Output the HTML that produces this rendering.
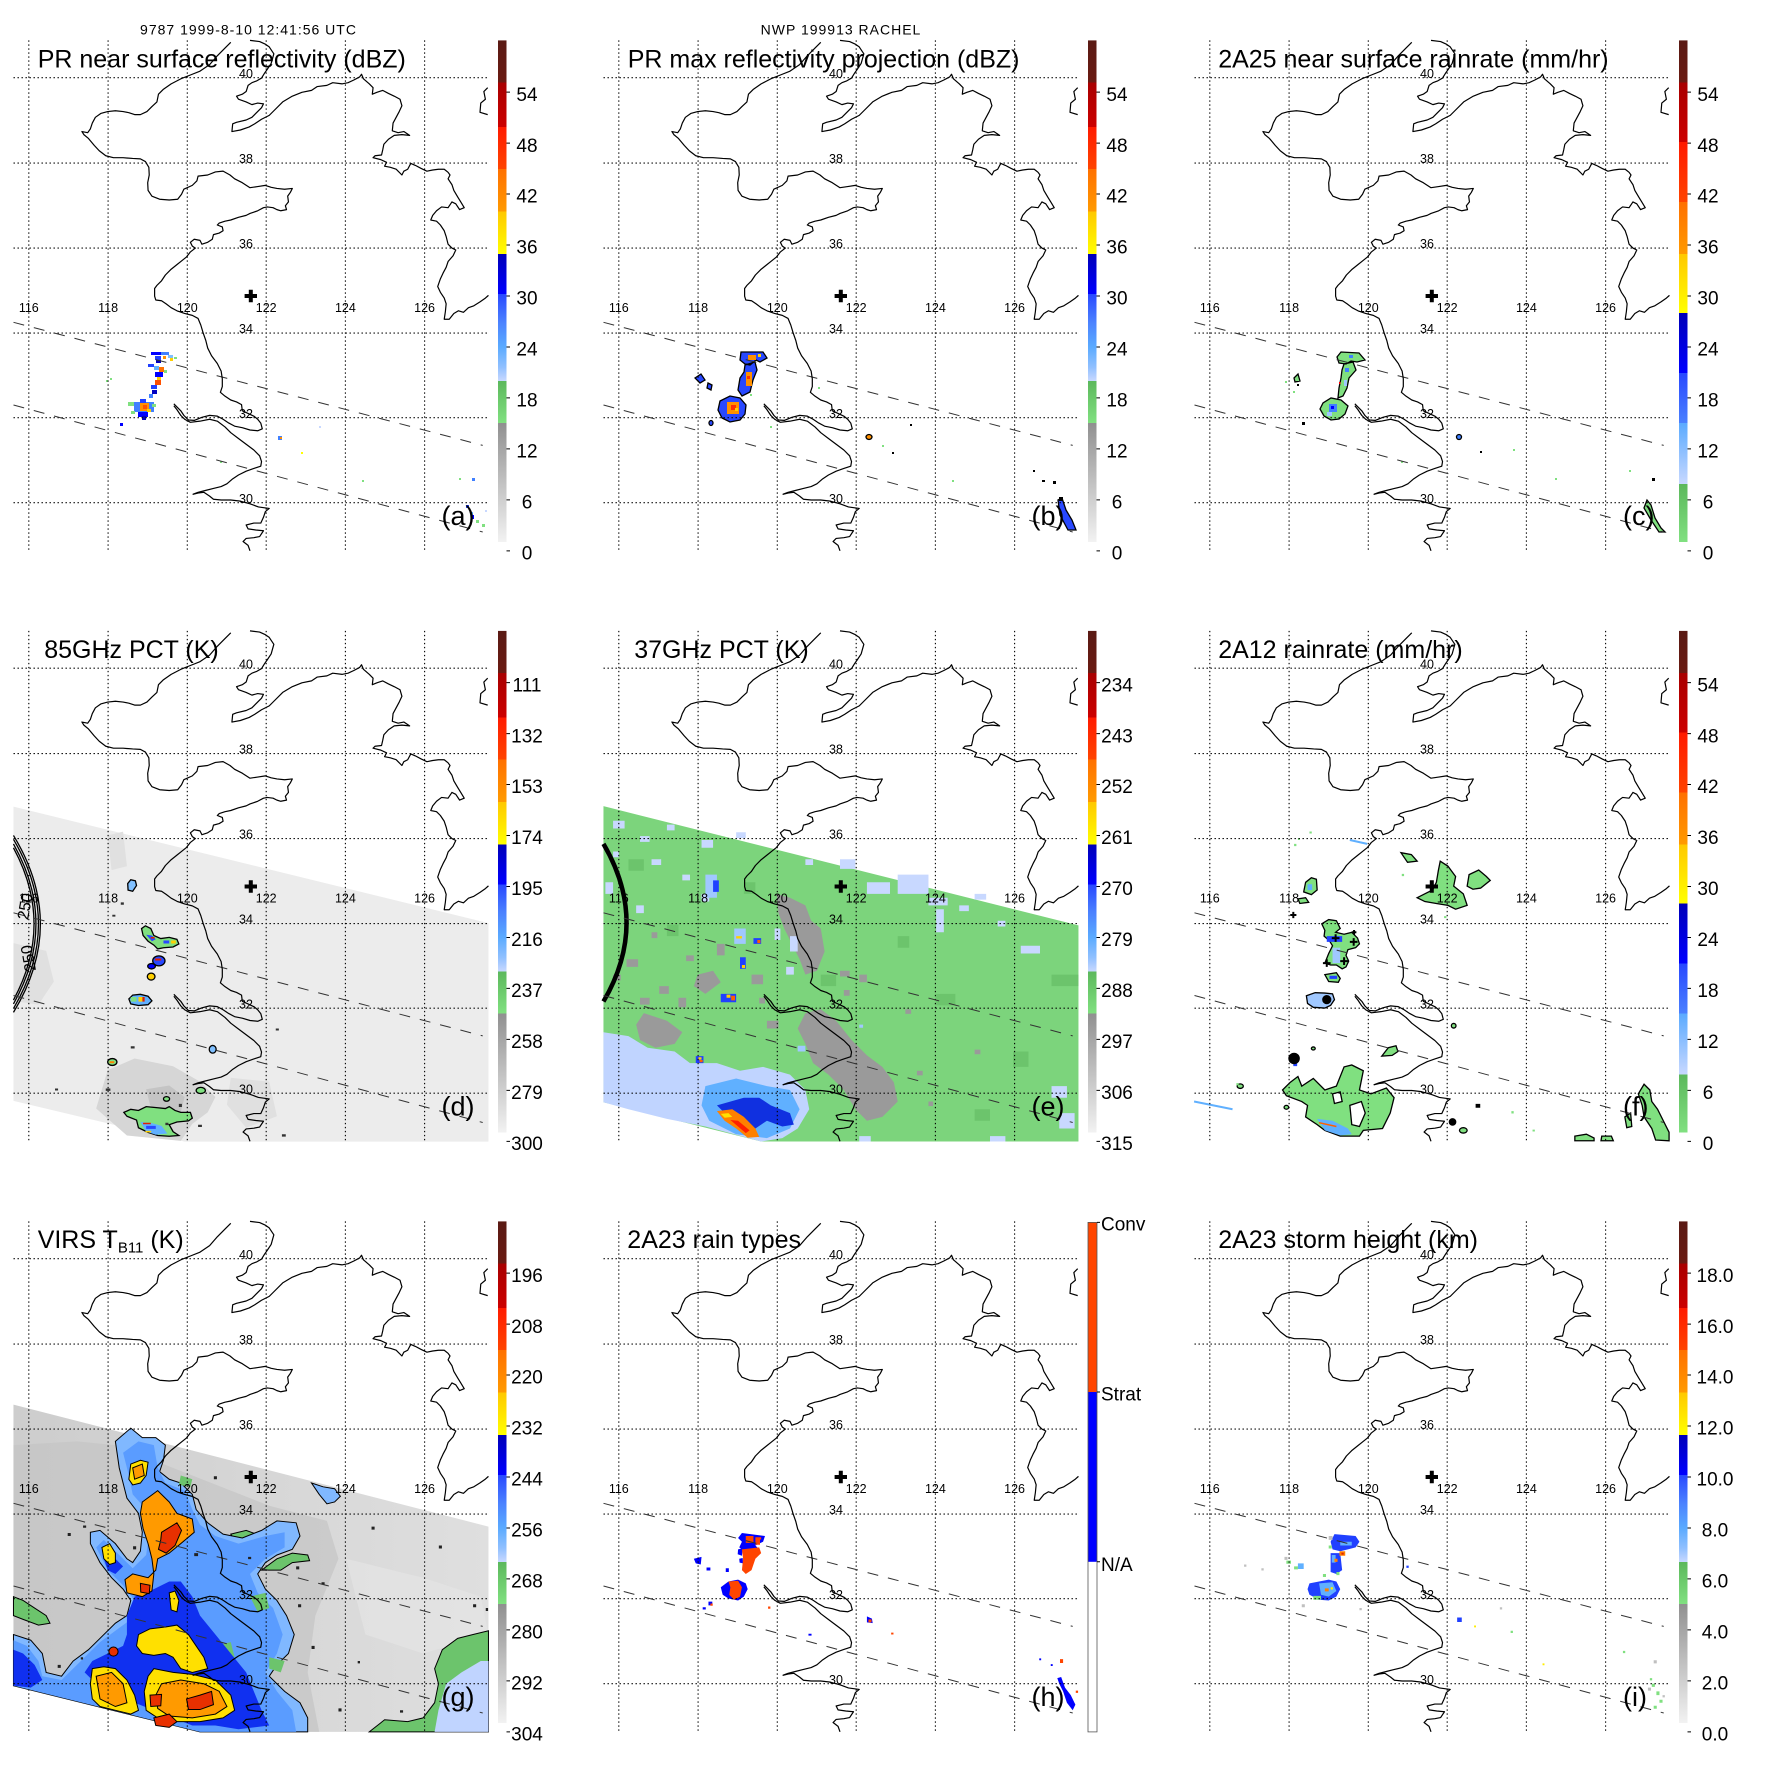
<!DOCTYPE html>
<html><head><meta charset="utf-8"><style>
html,body{margin:0;padding:0;background:#fff;}
svg{display:block;}
text{font-family:"Liberation Sans",Arial,sans-serif;fill:#000;}
.t{font-size:25px;}
.ll{font-size:12.5px;text-anchor:middle;}
.cb{font-size:19px;text-anchor:middle;}
.cl{font-size:19px;}
.pl{font-size:27px;}
.hd{font-size:14px;letter-spacing:1px;text-anchor:middle;}
.z *{vector-effect:non-scaling-stroke;}
</style></head><body>
<svg width="1771" height="1771" viewBox="0 0 1771 1771" xmlns="http://www.w3.org/2000/svg">
<defs>
<linearGradient id="gs" gradientUnits="userSpaceOnUse" x1="0" y1="40.4" x2="0" y2="551">
<stop offset="0" stop-color="#5a1a14"/><stop offset="0.0828" stop-color="#6a1a12"/>
<stop offset="0.0828" stop-color="#a80000"/><stop offset="0.1696" stop-color="#cc0000"/>
<stop offset="0.1696" stop-color="#ff1a00"/><stop offset="0.2519" stop-color="#ff4400"/>
<stop offset="0.2519" stop-color="#ff7000"/><stop offset="0.3351" stop-color="#ff9a00"/>
<stop offset="0.3351" stop-color="#ffc800"/><stop offset="0.4183" stop-color="#ffff00"/>
<stop offset="0.4183" stop-color="#0000b8"/><stop offset="0.4967" stop-color="#0000ff"/>
<stop offset="0.4967" stop-color="#2848ff"/><stop offset="0.55" stop-color="#4a80ff"/>
<stop offset="0.60" stop-color="#5aaaff"/><stop offset="0.64" stop-color="#90c0ff"/>
<stop offset="0.667" stop-color="#c8d8ff"/><stop offset="0.667" stop-color="#5cb85c"/>
<stop offset="0.7493" stop-color="#80e080"/><stop offset="0.7493" stop-color="#909090"/>
<stop offset="0.9824" stop-color="#f2f2f2"/><stop offset="0.9824" stop-color="#ffffff"/>
<stop offset="1" stop-color="#ffffff"/>
</linearGradient>
<linearGradient id="gr" gradientUnits="userSpaceOnUse" x1="0" y1="40.4" x2="0" y2="551">
<stop offset="0" stop-color="#5a1a14"/><stop offset="0.0828" stop-color="#6a1a12"/>
<stop offset="0.0828" stop-color="#a80000"/><stop offset="0.199" stop-color="#cc0000"/>
<stop offset="0.199" stop-color="#ff1a00"/><stop offset="0.3165" stop-color="#ff4400"/>
<stop offset="0.3165" stop-color="#ff7000"/><stop offset="0.4183" stop-color="#ff9a00"/>
<stop offset="0.4183" stop-color="#ffc800"/><stop offset="0.5339" stop-color="#ffff00"/>
<stop offset="0.5339" stop-color="#0000b8"/><stop offset="0.6514" stop-color="#0000ff"/>
<stop offset="0.6514" stop-color="#2848ff"/><stop offset="0.7493" stop-color="#4a80ff"/>
<stop offset="0.7493" stop-color="#5aaaff"/><stop offset="0.8688" stop-color="#c8d8ff"/>
<stop offset="0.8688" stop-color="#5cb85c"/><stop offset="0.9824" stop-color="#80e080"/>
<stop offset="0.9824" stop-color="#ffffff"/><stop offset="1" stop-color="#ffffff"/>
</linearGradient>
<linearGradient id="gg" gradientUnits="userSpaceOnUse" x1="35" y1="0" x2="1270" y2="0">
<stop offset="0" stop-color="#cdcdcd"/><stop offset="0.5" stop-color="#d6d6d6"/><stop offset="1" stop-color="#dfdfdf"/>
</linearGradient>
<g id="frame">
<path fill="none" stroke="#000" stroke-width="1.1" stroke-dasharray="1.4 2.6" d="M28.8,40.4V551M108.1,40.4V551M187.3,40.4V551M266.2,40.4V551M345.4,40.4V551M424.6,40.4V551M13.5,77.7H488.5M13.5,163.1H488.5M13.5,248.1H488.5M13.5,333.1H488.5M13.5,417.7H488.5M13.5,502.7H488.5"/>
<path fill="none" stroke="#333" stroke-width="1" stroke-dasharray="11 10" d="M13.5,322.3L482.7,445.4M13.5,405L482.7,532"/>
<g transform="scale(0.384615)" fill="none" stroke="#000" stroke-linejoin="round">
<path vector-effect="non-scaling-stroke" stroke-width="1.2" d="M600,110L585,125 565,145 545,168 520,185 495,195 470,205 445,218 425,232 412,245 408,265 395,277 382,290 365,298 350,298 335,293 320,290 300,288 280,290 262,295 248,305 240,320 235,335 228,345 213,342 218,350 230,360 245,378 258,392 275,405 295,410 320,410 345,412 365,413 378,420 387,435 388,455 384,475 385,495 395,510 415,518 440,520 462,518 472,505 478,492 500,482 512,470 515,458 540,455 560,447 580,445 598,455 610,465 630,475 650,488 670,485 690,482 705,487 720,490 740,492 760,490 755,500 748,510 750,525 742,535 745,545 730,548 720,545 710,540 695,538 685,540 670,548 650,555 640,560 620,565 600,572 585,575 570,580 565,585 578,590 580,600 570,606 555,610 552,622 540,630 525,635 520,625 505,622 495,630 500,640 508,645 495,655 485,668 470,680 460,688 445,700 430,715 420,730 408,742 402,750 402,770 405,780 420,782 432,790 445,800 460,808 480,815 500,820 515,828 522,845 528,865 535,885 540,905 550,925 565,945 575,965 578,985 578,1005 573,1020 585,1030 600,1040 615,1045 628,1052 630,1068 645,1075 660,1082 670,1090 678,1100 682,1115 670,1120 650,1118 630,1112 610,1108 595,1100 580,1090 565,1082 545,1080 525,1085 505,1093 490,1092 478,1080 470,1068 460,1058 452,1050"/>
<path vector-effect="non-scaling-stroke" stroke-width="1.2" d="M452,1055L460,1065 470,1080 480,1090 495,1098 520,1095 545,1090 565,1095 585,1110 600,1125 620,1140 640,1155 660,1170 675,1185 680,1200 678,1212 660,1218 640,1225 620,1235 605,1245 590,1258 575,1265 555,1270 535,1275 515,1280 502,1285 515,1282 530,1280 545,1290 555,1298 575,1300 600,1300 625,1303 650,1310 672,1318 700,1322 690,1330 685,1345 678,1360 660,1360 640,1365 645,1375 665,1378 685,1380 675,1395 660,1398 640,1400 632,1408 645,1418 650,1432"/>
<path vector-effect="non-scaling-stroke" stroke-width="1.2" d="M650,105L675,108 690,115 700,122 712,140 705,165 695,180 688,190 680,203 668,210 655,215 645,222 640,238 630,245 615,250 620,258 640,265 655,272 670,268 685,270 680,280 665,295 655,305 640,312 615,318 605,322 603,342 625,338 648,330 662,322 680,310 700,300 715,285 735,265 760,250 785,240 810,235 825,225 850,222 865,215 890,218 905,215 920,208 935,200 940,193 945,205 960,218 970,228 968,245 980,240 995,235 1010,243 1025,250 1040,258 1045,275 1038,290 1030,305 1022,320 1020,340 1035,345 1050,342 1065,352 1045,350 1025,352 1010,362 998,375 995,390 992,403 975,405 970,410 990,415 1005,422 1000,432 1015,435 1030,440 1045,455 1050,445 1060,440 1068,425 1080,430 1095,438 1110,445 1125,442 1140,440 1155,440 1165,448 1170,455 1165,465 1175,480 1180,495 1190,512 1198,525 1207,540 1195,545 1185,530 1175,525 1165,540 1148,538 1135,548 1125,560 1120,572 1135,575 1145,585 1155,600 1160,615 1165,635 1175,645 1185,650 1178,665 1165,680 1160,695 1152,710 1145,725 1138,745 1145,760 1155,775 1160,790 1158,810 1155,830 1168,830 1180,815 1192,808 1205,812 1218,800 1232,795 1248,785 1262,775 1270,768"/>
<path vector-effect="non-scaling-stroke" stroke-width="1.2" d="M1268,228L1258,238 1262,258 1250,268 1248,292 1268,298"/>
</g>
<path fill="#000" d="M244.6,294h12.4v4h-12.4zM248.8,289.8h4v12.4h-4z"/>
</g>
<path id="tk" stroke="#000" stroke-width="1" d="M506.5,92.1h3.5M506.5,143.1h3.5M506.5,194h3.5M506.5,245h3.5M506.5,296h3.5M506.5,347h3.5M506.5,397.9h3.5M506.5,448.9h3.5M506.5,499.9h3.5M506.5,550.9h3.5"/>
</defs>

<text class="hd" x="248.5" y="34.5">9787 1999-8-10 12:41:56 UTC</text>
<text class="hd" x="841" y="34.5">NWP 199913 RACHEL</text>

<!-- Panel a -->
<g transform="translate(0,0)">
<path fill="#0000ff" d="M151,352h10v3h-10z M155,372h8v5h-8z M138,412h10v5h-10z M120,423h3v3h-3z M472,515h2v4h-2z"/>
<path fill="#4080ff" d="M134,402h20v10h-20z M161,352h8v3h-8z M149,394h4v4h-4z M278,436h4v4h-4z M472,478h3v3h-3z"/>
<path fill="#2040ff" d="M155,356h6v4h-6z M148,364h6v3h-6z M151,385h6v4h-6z M140,399h6v4h-6z M466,505h3v3h-3z"/>
<path fill="#60b0ff" d="M154,366h5v4h-5z M470,512h3v3h-3z"/>
<path fill="#80c0ff" d="M168,355h5v3h-5z"/>
<path fill="#0000c0" d="M156,360h5v3h-5z M152,390h5v4h-5z M142,416h4v4h-4z"/>
<path fill="#ff9000" d="M163,356h3v3h-3z M140,403h9v8h-9z M280,437h2v2h-2z"/>
<path fill="#ff7000" d="M159,367h5v5h-5z"/>
<path fill="#ff5000" d="M155,380h6v5h-6z M143,405h4v4h-4z"/>
<path fill="#ffd000" d="M170,358h3v3h-3z M157,377h4v3h-4z M147,409h4v3h-4z"/>
<path fill="#ffff00" d="M301,452h2v2h-2z"/>
<path fill="#80e080" d="M174,357h3v2h-3z M164,370h3v3h-3z M128,402h6v4h-6z M152,404h4v3h-4z M106,380h2v2h-2z M110,378h2v2h-2z M362,480h2v2h-2z M220,461h2v2h-2z M476,520h3v3h-3z M482,524h3v3h-3z M459,478h2v2h-2z M131,411h4v3h-4z"/>
<path fill="#c8d8ff" d="M319,426h2v2h-2z M485,510h2v2h-2z"/>
<use href="#frame"/>
<text class="ll" x="28.8" y="312">116</text><text class="ll" x="108.1" y="312">118</text><text class="ll" x="187.3" y="312">120</text><text class="ll" x="266.2" y="312">122</text><text class="ll" x="345.4" y="312">124</text><text class="ll" x="424.6" y="312">126</text>
<text class="ll" x="246" y="78">40</text><text class="ll" x="246" y="163">38</text><text class="ll" x="246" y="248">36</text><text class="ll" x="246" y="333">34</text><text class="ll" x="246" y="418">32</text><text class="ll" x="246" y="503">30</text>
<text class="t" x="37.7" y="67.3">PR near surface reflectivity (dBZ)</text>
<text class="pl" x="441.5" y="525">(a)</text>
<rect x="498" y="40.4" width="8.5" height="510.6" fill="url(#gs)"/><use href="#tk"/>
<text class="cb" x="527" y="100.8">54</text><text class="cb" x="527" y="151.8">48</text><text class="cb" x="527" y="202.7">42</text><text class="cb" x="527" y="253.7">36</text><text class="cb" x="527" y="304.7">30</text><text class="cb" x="527" y="355.7">24</text><text class="cb" x="527" y="406.6">18</text><text class="cb" x="527" y="457.6">12</text><text class="cb" x="527" y="508.6">6</text><text class="cb" x="527" y="559.6">0</text>
</g>

<!-- Panel b -->
<g transform="translate(590,0)">
<g stroke="#000" stroke-width="1.3">
<path fill="#2848ff" d="M151,352L173,352L177,358L170,362L166,360L160,365L155,364L150,360Z M155,365L165,362L167,370L163,380L160,392L152,396L148,390L150,378L154,372Z M130,401L140,396L150,398L156,405L155,414L150,420L140,422L132,418L128,410Z M468,500L472,498L476,510L482,520L486,530L478,530L470,515Z M105,378L111,374L115,380L110,383Z M118,383L122,385L121,390L117,388Z"/>
<ellipse cx="279" cy="437" rx="3" ry="2.5" fill="#ff9000"/>
<ellipse cx="121" cy="423" rx="2" ry="2.5" fill="#2848ff"/>
</g>
<path fill="#ff9000" d="M158,355h8v5h-8z M156,372h6v14h-6z M137,402h12v12h-12z"/>
<path fill="#ff3000" d="M157,376h3v3h-3z M141,405h5v5h-5z"/>
<path fill="#ffd000" d="M168,354h3v3h-3z M145,408h3v3h-3z"/>
<path fill="#000" d="M320,424h2v2h-2z M302,452h2v2h-2z M443,470h2v2h-2z M452,480h3v2h-3z M463,481h3v3h-3z M469,497h4v4h-4z"/>
<path fill="#80e080" d="M228,387h2v2h-2z M292,445h2v2h-2z M180,426h2v2h-2z M362,480h2v2h-2z M160,394h2v2h-2z"/>
<use href="#frame"/>
<text class="ll" x="28.8" y="312">116</text><text class="ll" x="108.1" y="312">118</text><text class="ll" x="187.3" y="312">120</text><text class="ll" x="266.2" y="312">122</text><text class="ll" x="345.4" y="312">124</text><text class="ll" x="424.6" y="312">126</text>
<text class="ll" x="246" y="78">40</text><text class="ll" x="246" y="163">38</text><text class="ll" x="246" y="248">36</text><text class="ll" x="246" y="333">34</text><text class="ll" x="246" y="418">32</text><text class="ll" x="246" y="503">30</text>
<text class="t" x="37.7" y="67.3">PR max reflectivity projection (dBZ)</text>
<text class="pl" x="441.5" y="525">(b)</text>
<rect x="498" y="40.4" width="8.5" height="510.6" fill="url(#gs)"/><use href="#tk"/>
<text class="cb" x="527" y="100.8">54</text><text class="cb" x="527" y="151.8">48</text><text class="cb" x="527" y="202.7">42</text><text class="cb" x="527" y="253.7">36</text><text class="cb" x="527" y="304.7">30</text><text class="cb" x="527" y="355.7">24</text><text class="cb" x="527" y="406.6">18</text><text class="cb" x="527" y="457.6">12</text><text class="cb" x="527" y="508.6">6</text><text class="cb" x="527" y="559.6">0</text>
</g>

<!-- Panel c -->
<g transform="translate(1181,0)">
<g stroke="#000" stroke-width="1.3" fill="#80e080">
<path d="M156,357L160,352L178,353L184,360L176,362L170,361L165,364L158,363Z M161,370L163,364L172,362L175,370L168,378L166,388L162,396L157,398L158,388L160,378Z M139,409L142,403L150,398L160,400L167,406L164,414L158,419L150,420L143,416Z M113,378L117,374L119,381L114,382Z M466,500L470,505L474,518L480,528L484,532L478,532L470,520L463,508Z"/>
<ellipse cx="278" cy="437" rx="2.5" ry="2.5" fill="#4080ff"/>
</g>
<path fill="#4080ff" d="M168,355h4v3h-4z M164,368h4v4h-4z M148,404h8v8h-8z"/>
<path fill="#a0c8ff" d="M163,380h3v6h-3z M146,412h5v4h-5z"/>
<path fill="#0000ff" d="M150,406h3v3h-3z"/>
<path fill="#ff0000" d="M158,382h1.5v2h-1.5z"/>
<path fill="#000" d="M121,422h3v3h-3z M299,451h2v2h-2z M471,478h3v3h-3z M116,384h2v2h-2z"/>
<path fill="#80e080" d="M104,381h2v2h-2z M220,461h2v2h-2z M332,449h2v2h-2z M374,478h2v2h-2z M448,470h2v2h-2z M112,391h2v2h-2z"/>
<use href="#frame"/>
<text class="ll" x="28.8" y="312">116</text><text class="ll" x="108.1" y="312">118</text><text class="ll" x="187.3" y="312">120</text><text class="ll" x="266.2" y="312">122</text><text class="ll" x="345.4" y="312">124</text><text class="ll" x="424.6" y="312">126</text>
<text class="ll" x="246" y="78">40</text><text class="ll" x="246" y="163">38</text><text class="ll" x="246" y="248">36</text><text class="ll" x="246" y="333">34</text><text class="ll" x="246" y="418">32</text><text class="ll" x="246" y="503">30</text>
<text class="t" x="37.2" y="67.3">2A25 near surface rainrate (mm/hr)</text>
<text class="pl" x="442" y="525">(c)</text>
<rect x="498" y="40.4" width="8.5" height="510.6" fill="url(#gr)"/><use href="#tk"/>
<text class="cb" x="527" y="100.8">54</text><text class="cb" x="527" y="151.8">48</text><text class="cb" x="527" y="202.7">42</text><text class="cb" x="527" y="253.7">36</text><text class="cb" x="527" y="304.7">30</text><text class="cb" x="527" y="355.7">24</text><text class="cb" x="527" y="406.6">18</text><text class="cb" x="527" y="457.6">12</text><text class="cb" x="527" y="508.6">6</text><text class="cb" x="527" y="559.6">0</text>
</g>

<!-- Panel d -->
<g transform="translate(0,590.5)">
<g class="z" transform="matrix(0.384615,0,0,0.384615,0,6.5)">
<path fill="#ececec" d="M35,545L1270,848L1270,1416L480,1416L35,1310Z"/>
<path fill="#d6d6d6" d="M280,1230L350,1200L450,1220L520,1260L560,1300L540,1340L500,1370L470,1414L330,1400L250,1330Z"/>
<path fill="#c4c4c4" d="M380,1280L440,1270L480,1300L470,1340L420,1350L390,1320Z"/>
<path fill="#e0e0e0" d="M35,900L120,920L140,1000L100,1060L35,1050Z M280,620L320,610L330,700L290,710Z M600,1250L700,1260L720,1350L640,1380L590,1320Z"/>
<path fill="none" stroke="#000" stroke-width="1.3" d="M35,620Q175,850 35,1080 M35,630Q165,850 35,1070 M35,642Q152,850 35,1058 M35,652Q142,850 35,1048"/>
<g stroke="#000" stroke-width="1.3">
<path fill="#80c0ff" d="M332,745L340,735L352,738L355,750L345,765L333,762Z"/>
<path fill="#80e080" d="M368,862L378,855L392,862L400,880L418,888L440,885L460,890L465,902L450,910L425,912L410,915L400,905L385,895L372,880Z"/>
<ellipse cx="413" cy="946" rx="16" ry="13" fill="#2848ff"/>
<ellipse cx="394" cy="960" rx="10" ry="7" fill="#0000ff"/>
<ellipse cx="393" cy="987" rx="10" ry="9" fill="#ffd000"/>
<path fill="#60b0ff" d="M335,1045L345,1035L365,1033L385,1038L395,1050L385,1060L360,1062L340,1058Z"/>
<ellipse cx="292" cy="1209" rx="12" ry="9" fill="#80e080"/>
<ellipse cx="553" cy="1176" rx="9" ry="10" fill="#80c0ff"/>
<ellipse cx="522" cy="1283" rx="12" ry="8" fill="#80e080"/>
<path fill="#80e080" d="M322,1340L340,1332L360,1335L380,1325L410,1328L430,1330L440,1325L455,1335L470,1340L495,1340L500,1355L490,1362L460,1365L440,1372L450,1390L465,1400L440,1402L410,1400L385,1392L360,1380L355,1360L330,1350Z"/>
<ellipse cx="433" cy="1305" rx="8" ry="6" fill="#80e080"/>
</g>
<path fill="#2848ff" d="M380,878L395,880L405,890L395,895Z M425,893h15v8h-15z"/>
<path fill="#60b0ff" d="M365,1365L395,1368L420,1375L435,1395L405,1398L380,1390Z"/>
<path fill="#2848ff" d="M380,1375h25v8h-25z"/>
<path fill="#e02000" d="M392,884h10v4h-10z M403,940h16v5h-16z M370,1040h6v12h-6z M372,1367h20v4h-20z"/>
<path fill="#ffd000" d="M445,893h12v8h-12z M360,1040h10v12h-10z M378,1388h15v4h-15z"/>
<path fill="#80e080" d="M340,1040h15v12h-15z"/>
<path fill="#ff8000" d="M285,1207h12v5h-12z"/>
<path fill="#333" d="M340,1168h10v6h-10z M275,1278h12v6h-12z M143,1278h8v5h-8z M733,1397h10v6h-10z M717,1122h8v5h-8z M292,826h8v5h-8z M314,794h8v6h-8z M515,1372h10v6h-10z M465,1318h8v8h-8z M430,1367h8v6h-8z"/>
</g>
<use href="#frame"/>
<text class="ll" x="28.8" y="312">116</text>
<text x="28" y="330" font-size="16" transform="rotate(-80 28 330)">250</text>
<text x="36" y="380" font-size="16" transform="rotate(-100 36 380)">250</text>
<text class="ll" x="108.1" y="312">118</text><text class="ll" x="187.3" y="312">120</text><text class="ll" x="266.2" y="312">122</text><text class="ll" x="345.4" y="312">124</text><text class="ll" x="424.6" y="312">126</text>
<text class="ll" x="246" y="78">40</text><text class="ll" x="246" y="163">38</text><text class="ll" x="246" y="248">36</text><text class="ll" x="246" y="333">34</text><text class="ll" x="246" y="418">32</text><text class="ll" x="246" y="503">30</text>
<text class="t" x="44.2" y="67.3">85GHz PCT (K)</text>
<text class="pl" x="441.5" y="525">(d)</text>
<rect x="498" y="40.4" width="8.5" height="510.6" fill="url(#gs)"/><use href="#tk"/>
<text class="cb" x="527" y="100.8">111</text><text class="cb" x="527" y="151.8">132</text><text class="cb" x="527" y="202.7">153</text><text class="cb" x="527" y="253.7">174</text><text class="cb" x="527" y="304.7">195</text><text class="cb" x="527" y="355.7">216</text><text class="cb" x="527" y="406.6">237</text><text class="cb" x="527" y="457.6">258</text><text class="cb" x="527" y="508.6">279</text><text class="cb" x="527" y="559.6">300</text>
</g>

<!-- Panel e -->
<g transform="translate(590,590.5)">
<g class="z" transform="matrix(0.384615,0,0,0.384615,0,-0.5)">
<path fill="#7cd47c" d="M35,562L1270,872L1270,1434L445,1434L35,1332Z"/>
<path fill="#6cc46c" d="M100,700h40v30h-40z M400,760h30v30h-30z M600,1000h40v30h-40z M900,1050h50v30h-50z M1100,1200h40v40h-40z M800,900h30v30h-30z M200,870h30v30h-30z M1000,1350h40v30h-40z M700,1300h30v30h-30z M1200,1000h40h30v30h-70z"/>
<path fill="#9a9a9a" d="M485,790L520,800L560,820L575,860L600,880L610,940L590,990L560,1000L545,960L525,920L505,880L490,840Z M560,1100L600,1090L640,1120L680,1170L720,1210L760,1240L790,1280L800,1330L760,1370L720,1380L690,1350L660,1300L620,1260L580,1230L560,1180L540,1140Z M140,1100L200,1120L240,1150L220,1180L170,1190L130,1170L120,1130Z M280,1000L320,990L340,1020L300,1050L270,1030Z M95,960h30v20h-30z M180,1030h25v20h-25z M230,1060h20v25h-20z M420,1000h30v25h-30z M650,990h25v15h-25z M700,1000h20v20h-20z M460,1120h30v20h-30z M820,1090h15v12h-15z M1000,1195h15v12h-15z M330,920h20v30h-20z M250,950h20v15h-20z M130,1060h25v18h-25z M60,1000h20v15h-20z M160,890h15v15h-15z M440,1060h15v15h-15z M660,1040h15v15h-15z M850,1250h15v12h-15z M880,1330h12v12h-12z"/>
<path fill="#c8d8ff" d="M60,600h30v20h-30z M130,640h25v15h-25z M200,610h20v15h-20z M290,650h30v20h-30z M160,700h25v15h-25z M650,700h40v25h-40z M720,760h60v30h-60z M800,740h80v50h-80z M880,800h50v20h-50z M900,830h20v60h-20z M1120,925h50v20h-50z M290,790h20v20h-20z M40,760h20v30h-20z M120,820h20v20h-20z M480,880h15v30h-15z M520,900h20v40h-20z M510,980h20v20h-20z M1000,790h30v15h-30z M240,740h20v15h-20z M1200,1290h40v30h-40z M1220,1360h40v40h-40z M1040,1420h40v14h-40z M380,630h25v15h-25z M560,700h20v15h-20z M960,820h25v15h-25z M1060,860h20v15h-20z M700,1420h30v14h-30z M60,680h15v15h-15z"/>
<path fill="#c0d4ff" d="M35,1150L100,1160L150,1190L220,1200L260,1230L330,1230L390,1250L450,1240L520,1260L560,1300L570,1350L540,1400L500,1425L445,1434L300,1395L200,1375L100,1350L35,1332Z"/>
<path fill="#60b0ff" d="M300,1290L380,1270L460,1290L520,1300L545,1350L520,1400L460,1425L380,1415L310,1380L290,1340Z"/>
<path fill="#1030e0" d="M330,1340L400,1320L440,1320L470,1340L520,1360L530,1390L500,1395L460,1380L430,1400L400,1390L360,1370Z"/>
<path fill="#ff8000" d="M330,1355L370,1350L400,1370L430,1400L440,1422L410,1424L380,1400L350,1380Z"/>
<path fill="#ff2000" d="M365,1378L385,1380L415,1405L405,1412Z"/>
<path fill="#ffe000" d="M340,1362L360,1360L370,1370L350,1372Z"/>
<path fill="#a0c8ff" d="M375,880h30v40h-30z M540,1185h20v15h-20z M700,1130h10v8h-10z M300,740h30v60h-30z"/>
<path fill="#2040ff" d="M320,755h15v30h-15z M425,905h20v15h-20z M390,955h15v30h-15z M340,1050h40v22h-40z M275,1212h20v18h-20z"/>
<path fill="#ffd000" d="M380,900h15v6h-15z M395,975h8v8h-8z M282,1215h8v6h-8z M355,1052h10v8h-10z"/>
<path fill="#ff6000" d="M435,910h8v8h-8z M367,1055h10v12h-10z M285,1222h8v6h-8z"/>
<path fill="none" stroke="#000" stroke-width="4.5" d="M35,660Q155,865 35,1070"/>
</g>
<use href="#frame"/>
<text class="ll" x="28.8" y="312">116</text><text class="ll" x="108.1" y="312">118</text><text class="ll" x="187.3" y="312">120</text><text class="ll" x="266.2" y="312">122</text><text class="ll" x="345.4" y="312">124</text><text class="ll" x="424.6" y="312">126</text>
<text class="ll" x="246" y="78">40</text><text class="ll" x="246" y="163">38</text><text class="ll" x="246" y="248">36</text><text class="ll" x="246" y="333">34</text><text class="ll" x="246" y="418">32</text><text class="ll" x="246" y="503">30</text>
<text class="t" x="44.2" y="67.3">37GHz PCT (K)</text>
<text class="pl" x="441.5" y="525">(e)</text>
<rect x="498" y="40.4" width="8.5" height="510.6" fill="url(#gs)"/><use href="#tk"/>
<text class="cb" x="527" y="100.8">234</text><text class="cb" x="527" y="151.8">243</text><text class="cb" x="527" y="202.7">252</text><text class="cb" x="527" y="253.7">261</text><text class="cb" x="527" y="304.7">270</text><text class="cb" x="527" y="355.7">279</text><text class="cb" x="527" y="406.6">288</text><text class="cb" x="527" y="457.6">297</text><text class="cb" x="527" y="508.6">306</text><text class="cb" x="527" y="559.6">315</text>
</g>

<!-- Panel f -->
<g transform="translate(1181,590.5)">
<g class="z" transform="matrix(0.384615,0,0,0.384615,-10,-0.5)">
<g stroke="#000" stroke-width="1.3" fill="#80e080">
<path d="M700,705L720,718L740,745L735,770L760,790L770,820L740,830L720,820L690,815L660,810L640,800L660,790L680,780L690,760L695,730Z"/>
<path d="M775,740L800,728L820,745L830,755L805,775L785,778L770,770Z"/>
<path d="M598,683L625,688L640,705L615,708Z"/>
<path d="M350,760L365,748L378,752L380,780L365,792L345,785Z"/>
<path d="M330,803L350,800L358,812L335,815Z"/>
<path d="M392,868L410,857L430,860L440,880L428,890L450,895L470,890L485,905L490,920L480,930L460,935L455,950L462,965L455,980L445,985L430,975L415,975L400,970L410,945L420,925L412,912L398,900L400,885Z"/>
<path d="M400,1000L430,995L440,1010L435,1020L410,1018Z"/>
<path fill="#a0c8ff" d="M352,1055L375,1047L400,1048L420,1050L425,1065L415,1080L400,1087L370,1085L355,1075Z"/>
<path d="M548,1212L565,1190L585,1185L590,1200L575,1210Z"/>
<path d="M290,1300L310,1280L330,1265L340,1290L370,1270L400,1300L430,1290L450,1240L470,1235L500,1250L490,1300L520,1310L560,1295L580,1320L570,1360L550,1400L500,1405L490,1420L440,1420L400,1405L380,1390L350,1370L355,1340L340,1330L300,1315Z"/>
<path fill="#fff" d="M465,1340L495,1330L505,1360L490,1395L470,1390Z M420,1310L440,1305L445,1330L425,1335Z"/>
<path d="M1230,1285L1245,1300L1250,1330L1265,1350L1280,1380L1295,1410L1295,1432L1260,1430L1250,1400L1230,1370L1225,1340L1215,1310Z M1180,1370L1195,1360L1198,1395L1185,1398Z M1050,1420L1080,1415L1100,1425L1100,1432L1050,1432Z M1120,1420L1145,1420L1150,1432L1118,1432Z"/>
<ellipse cx="760" cy="1405" rx="10" ry="7"/>
<ellipse cx="180" cy="1290" rx="8" ry="6"/>
<ellipse cx="300" cy="1345" rx="6" ry="5"/>
<ellipse cx="370" cy="1192" rx="5" ry="4"/>
<ellipse cx="735" cy="1133" rx="6" ry="6"/>
</g>
<path fill="#60b0ff" d="M355,765h12v15h-12z M380,1375L420,1380L460,1400L470,1415L440,1418L400,1405Z"/>
<path fill="#2040ff" d="M405,900h40v15h-40z M412,1003h20v8h-20z M318,1228h10v10h-10z"/>
<path fill="#a0c8ff" d="M420,930h20v40h-20z"/>
<path fill="#000" d="M305,1218a15,15 0 1,0 30,0a15,15 0 1,0 -30,0z M393,1065a12,12 0 1,0 24,0a12,12 0 1,0 -24,0z M722,1383a10,10 0 1,0 20,0a10,10 0 1,0 -20,0z M792,1336h12v10h-12z"/>
<path fill="none" stroke="#000" stroke-width="2" d="M418,905h20M428,895v20 M465,915h20M475,905v20 M440,965h20M450,955v20 M395,970h20M405,960v20 M310,845h16M318,837v16 M470,890h12M476,884v12"/>
<path fill="none" stroke="#60b0ff" stroke-width="2" d="M60,1330L160,1350 M465,650L510,660"/>
<path fill="none" stroke="#ff6000" stroke-width="1.5" d="M385,1385L430,1395"/>
<path fill="#80e080" d="M320,660h6v6h-6z M330,645h5v5h-5z M360,628h6v5h-6z M600,738h6v6h-6z M710,848h6v5h-6z M885,1355h6v6h-6z M940,1403h6v5h-6z M170,1282h6v6h-6z"/>
</g>
<use href="#frame"/>
<text class="ll" x="28.8" y="312">116</text><text class="ll" x="108.1" y="312">118</text><text class="ll" x="187.3" y="312">120</text><text class="ll" x="266.2" y="312">122</text><text class="ll" x="345.4" y="312">124</text><text class="ll" x="424.6" y="312">126</text>
<text class="ll" x="246" y="78">40</text><text class="ll" x="246" y="163">38</text><text class="ll" x="246" y="248">36</text><text class="ll" x="246" y="333">34</text><text class="ll" x="246" y="418">32</text><text class="ll" x="246" y="503">30</text>
<text class="t" x="37.2" y="67.3">2A12 rainrate (mm/hr)</text>
<text class="pl" x="442" y="525">(f)</text>
<rect x="498" y="40.4" width="8.5" height="510.6" fill="url(#gr)"/><use href="#tk"/>
<text class="cb" x="527" y="100.8">54</text><text class="cb" x="527" y="151.8">48</text><text class="cb" x="527" y="202.7">42</text><text class="cb" x="527" y="253.7">36</text><text class="cb" x="527" y="304.7">30</text><text class="cb" x="527" y="355.7">24</text><text class="cb" x="527" y="406.6">18</text><text class="cb" x="527" y="457.6">12</text><text class="cb" x="527" y="508.6">6</text><text class="cb" x="527" y="559.6">0</text>
</g>

<!-- Panel g -->
<g transform="translate(0,1181)">
<g class="z" transform="matrix(0.384615,0,0,0.378788,0,-1)">
<path fill="url(#gg)" d="M35,593L1270,915L1270,1457L520,1457L35,1335Z"/>
<path fill="#c4c4c4" opacity="0.7" d="M35,700L200,690L300,700L500,780L700,860L850,900L880,1000L820,1150L800,1300L830,1457L520,1457L35,1335Z"/>
<path fill="#e6e6e6" opacity="0.6" d="M900,1000L1100,1050L1250,1100L1270,1200L1100,1250L950,1200Z"/>
<g stroke="#000" stroke-width="1">
<path fill="#6cc46c" d="M35,1100L60,1110L90,1130L120,1150L130,1170L100,1175L60,1160L35,1150Z M1130,1290L1150,1240L1190,1210L1230,1200L1270,1190L1270,1457L960,1457L1000,1425L1060,1430L1100,1420L1130,1380L1140,1330Z M600,935L640,925L680,940L700,960L660,970L620,965Z M680,1030L720,1000L760,985L800,990L805,1005L760,1010L730,1030Z M560,1150L600,1130L650,1150L700,1160L720,1200L690,1230L640,1220L600,1210L570,1190Z"/>
<path fill="#80b8ff" d="M300,690L340,655L370,680L405,680L430,700L425,740L415,770L440,790L470,800L500,830L510,870L540,905L580,935L630,945L680,925L720,900L770,905L780,940L760,975L720,990L690,1010L670,1040L690,1080L720,1110L745,1150L765,1200L750,1250L720,1280L700,1310L740,1350L780,1380L800,1420L800,1457L520,1457L35,1335L35,1200L80,1215L110,1250L120,1300L160,1310L190,1270L230,1240L270,1200L300,1170L330,1150L340,1110L320,1080L290,1050L260,1010L235,960L235,930L260,925L300,960L330,1000L345,1010L365,980L370,930L360,880L330,840L320,800L310,760Z M810,800L840,810L870,815L885,835L870,850L850,855L830,830Z"/>
</g>
<path fill="#5a9cff" d="M320,720L360,690L400,700L410,760L430,800L480,820L500,870L520,910L560,940L620,960L690,940L740,930L740,970L690,1000L650,1040L670,1090L710,1130L735,1200L720,1250L690,1300L720,1350L760,1400L770,1457L520,1457L35,1335L35,1215L70,1230L100,1270L110,1310L160,1320L200,1280L260,1220L300,1190L340,1160L350,1110L320,1070L280,1030L250,970L270,950L310,990L345,1025L380,990L390,920L380,870L345,830L335,780Z"/>
<path fill="#6cc46c" d="M650,1100L690,1090L700,1130L670,1140Z M560,1230L600,1220L610,1260L570,1265Z M700,1260L740,1270L730,1300L700,1290Z M470,780L500,790L495,810L465,805Z"/>
<path fill="#c0d4ff" d="M1140,1400L1160,1330L1200,1300L1250,1270L1270,1270L1270,1457L1130,1457Z"/>
<path fill="#1030f0" d="M350,1100L400,1080L440,1060L470,1060L500,1100L520,1150L560,1200L600,1250L640,1300L660,1350L680,1400L700,1440L620,1450L560,1440L500,1440L450,1420L400,1400L350,1380L300,1350L250,1330L220,1300L240,1270L280,1250L320,1230L330,1200L330,1150Z M35,1240L60,1250L90,1280L110,1320L80,1340L35,1335Z M270,1000L290,990L320,1020L300,1040L280,1030Z"/>
<g stroke="#000" stroke-width="1">
<path fill="#ffe000" d="M340,750L365,740L385,745L380,780L365,800L345,805L335,790Z M360,1200L390,1185L430,1180L460,1175L490,1200L510,1230L530,1260L540,1290L500,1300L470,1290L450,1260L430,1250L400,1255L370,1250L355,1230Z M240,1290L270,1285L300,1290L330,1320L350,1360L360,1400L340,1410L300,1400L260,1390L240,1370L235,1330Z M265,970L285,960L300,985L300,1010L285,1015L270,1000Z M440,1090L455,1085L465,1110L460,1140L445,1135Z M400,1290L450,1300L500,1305L560,1320L600,1360L610,1400L580,1420L520,1430L460,1430L410,1420L380,1400L375,1350L385,1310Z"/>
<path fill="#ff9a00" d="M370,850L410,820L440,850L460,880L500,895L505,930L470,960L440,985L410,1000L405,1030L385,1050L345,1040L325,1055L330,1090L370,1100L395,1085L400,1040L395,1000L385,960L372,920L365,880Z M420,1330L470,1320L530,1330L570,1350L590,1390L560,1410L500,1420L440,1415L410,1395L405,1360Z M250,1310L290,1300L320,1330L330,1380L300,1390L260,1370Z M345,760L370,750L375,780L350,790Z"/>
<path fill="#e83000" d="M420,930L460,905L472,925L455,965L432,985L412,975L418,950Z M365,1065L390,1070L388,1092L366,1088Z M485,1370L520,1360L550,1350L555,1385L520,1398L490,1398Z M390,1360L420,1358L418,1388L392,1390Z M400,1420L440,1410L460,1430L440,1445L405,1440Z"/>
<circle cx="295" cy="1245" r="12" fill="#e83000"/>
</g>
<path fill="#222" d="M556,782h8v8h-8z M966,915h8v8h-8z M1141,965h8v8h-8z M836,1062h8v6h-8z M176,932h8v8h-8z M216,912h8v6h-8z M346,967h8v8h-8z M505,985h10v8h-10z M645,995h8v6h-8z M775,1120h8v8h-8z M810,1230h8v8h-8z M880,1395h8v8h-8z M1230,1120h8v8h-8z M1263,1130h6v8h-6z M150,1280h8v8h-8z M210,1260h6v6h-6z M770,1020h8v8h-8z M930,1270h6v6h-6z M1040,1400h8v6h-8z"/>
</g>
<use href="#frame"/>
<text class="ll" x="28.8" y="312">116</text><text class="ll" x="108.1" y="312">118</text><text class="ll" x="187.3" y="312">120</text><text class="ll" x="266.2" y="312">122</text><text class="ll" x="345.4" y="312">124</text><text class="ll" x="424.6" y="312">126</text>
<text class="ll" x="246" y="78">40</text><text class="ll" x="246" y="163">38</text><text class="ll" x="246" y="248">36</text><text class="ll" x="246" y="333">34</text><text class="ll" x="246" y="418">32</text><text class="ll" x="246" y="503">30</text>
<text class="t" x="37.7" y="67">VIRS T<tspan font-size="15" dy="4.5">B11</tspan><tspan dy="-4.5"> (K)</tspan></text>
<text class="pl" x="441.5" y="525">(g)</text>
<rect x="498" y="40.4" width="8.5" height="510.6" fill="url(#gs)"/><use href="#tk"/>
<text class="cb" x="527" y="100.8">196</text><text class="cb" x="527" y="151.8">208</text><text class="cb" x="527" y="202.7">220</text><text class="cb" x="527" y="253.7">232</text><text class="cb" x="527" y="304.7">244</text><text class="cb" x="527" y="355.7">256</text><text class="cb" x="527" y="406.6">268</text><text class="cb" x="527" y="457.6">280</text><text class="cb" x="527" y="508.6">292</text><text class="cb" x="527" y="559.6">304</text>
</g>

<!-- Panel h -->
<g transform="translate(590,1181)">
<g class="z" transform="matrix(0.384615,0,0,0.378788,0,-1)">
<path fill="#0000ff" d="M395,932L455,940L450,955L430,965L440,975L420,985L400,978L388,970L395,955L385,945Z M385,975L397,972L395,992L384,988Z M388,1000L397,998L398,1012L389,1010Z M340,1075L360,1060L385,1055L405,1065L410,1080L400,1100L385,1110L360,1105L345,1095Z M270,1000L290,995L288,1015L275,1012Z M303,1023h10v8h-10z M353,1025h8v10h-8z M308,1113h10v10h-10z M293,1128h8v6h-8z M720,1152L733,1158L735,1170L720,1168Z M568,1198h8v5h-8z M1215,1315L1225,1312L1235,1340L1250,1360L1262,1385L1255,1400L1240,1380L1230,1350L1220,1330Z M1168,1263h5v5h-5z M1198,1278h5v5h-5z"/>
<path fill="#ff4500" d="M405,940h20v18h-20z M430,948h12v15h-12z M395,975L440,970L445,985L430,1000L420,1030L405,1040L395,1030L398,1000Z M360,1060L385,1058L395,1075L390,1100L375,1108L362,1095L365,1075Z M313,1118h6v6h-6z M463,1126h6v6h-6z M724,1160h8v8h-8z M783,1195h6v5h-6z M1222,1265h8v10h-8z M1263,1348h6v6h-6z M430,943h15v6h-15z"/>
</g>
<use href="#frame"/>
<text class="ll" x="28.8" y="312">116</text><text class="ll" x="108.1" y="312">118</text><text class="ll" x="187.3" y="312">120</text><text class="ll" x="266.2" y="312">122</text><text class="ll" x="345.4" y="312">124</text><text class="ll" x="424.6" y="312">126</text>
<text class="ll" x="246" y="78">40</text><text class="ll" x="246" y="163">38</text><text class="ll" x="246" y="248">36</text><text class="ll" x="246" y="333">34</text><text class="ll" x="246" y="418">32</text><text class="ll" x="246" y="503">30</text>
<text class="t" x="37.3" y="67">2A23 rain types</text>
<text class="pl" x="441.5" y="525">(h)</text>
<rect x="498" y="41.4" width="9" height="169.6" fill="#ff4500"/>
<rect x="498" y="211" width="9" height="169.8" fill="#0000ff"/>
<rect x="498" y="41.4" width="9" height="509.5" fill="none" stroke="#555" stroke-width="0.8"/>
<path stroke="#000" stroke-width="1" d="M507,41.4h3M507,211h3M507,380.8h3"/>
<text class="cl" x="511" y="49.4">Conv</text>
<text class="cl" x="511" y="219.5">Strat</text>
<text class="cl" x="511" y="390">N/A</text>
</g>

<!-- Panel i -->
<g transform="translate(1181,1181)">
<g class="z" transform="matrix(0.384615,0,0,0.378788,-10,-1)">
<path fill="#2040ff" d="M425,935L480,940L490,955L480,970L460,975L440,980L420,975L415,955Z M415,985L440,985L445,1030L430,1040L415,1035Z M360,1065L385,1060L410,1055L430,1060L440,1080L430,1100L410,1110L385,1108L360,1095L355,1080Z M744,1155h12v12h-12z M612,1018h6v6h-6z"/>
<path fill="#60b0ff" d="M440,955h30v10h-30z M385,1065L420,1062L430,1085L410,1100L390,1095Z M330,1012h15v15h-15z M418,990h10v20h-10z"/>
<path fill="#ff8000" d="M438,980h15v12h-15z M425,1000h8v8h-8z M400,1078h10v8h-10z"/>
<path fill="#e02000" d="M443,984h6v5h-6z"/>
<path fill="#80e080" d="M370,1098h20v10h-20z M300,1005h12v8h-12z M320,1020h10v8h-10z M410,965h8v8h-8z M883,1190h6v6h-6z M1175,1243h6v6h-6z M1250,1330h8v8h-8z M1262,1350h8v10h-8z M1270,1372h8v8h-8z M1255,1388h8v8h-8z M1245,1315h6v6h-6z M430,1035h8v8h-8z M395,1040h8v8h-8z"/>
<path fill="#c0c0c0" d="M410,940h10v10h-10z M1255,1268h8v8h-8z M1240,1340h8v8h-8z M1278,1360h6v6h-6z M340,1120h8v8h-8z M235,1025h6v6h-6z M190,1015h6v6h-6z M295,995h8v8h-8z M490,1130h6v6h-6z M855,1128h6v6h-6z"/>
<path fill="#ffee00" d="M788,1176h5v5h-5z M966,1276h5v5h-5z M415,1075h6v6h-6z"/>
</g>
<use href="#frame"/>
<text class="ll" x="28.8" y="312">116</text><text class="ll" x="108.1" y="312">118</text><text class="ll" x="187.3" y="312">120</text><text class="ll" x="266.2" y="312">122</text><text class="ll" x="345.4" y="312">124</text><text class="ll" x="424.6" y="312">126</text>
<text class="ll" x="246" y="78">40</text><text class="ll" x="246" y="163">38</text><text class="ll" x="246" y="248">36</text><text class="ll" x="246" y="333">34</text><text class="ll" x="246" y="418">32</text><text class="ll" x="246" y="503">30</text>
<text class="t" x="37.2" y="67">2A23 storm height (km)</text>
<text class="pl" x="442" y="525">(i)</text>
<rect x="498" y="40.4" width="8.5" height="510.6" fill="url(#gs)"/><use href="#tk"/>
<text class="cb" x="534" y="100.8">18.0</text><text class="cb" x="534" y="151.8">16.0</text><text class="cb" x="534" y="202.7">14.0</text><text class="cb" x="534" y="253.7">12.0</text><text class="cb" x="534" y="304.7">10.0</text><text class="cb" x="534" y="355.7">8.0</text><text class="cb" x="534" y="406.6">6.0</text><text class="cb" x="534" y="457.6">4.0</text><text class="cb" x="534" y="508.6">2.0</text><text class="cb" x="534" y="559.6">0.0</text>
</g>
</svg>
</body></html>
